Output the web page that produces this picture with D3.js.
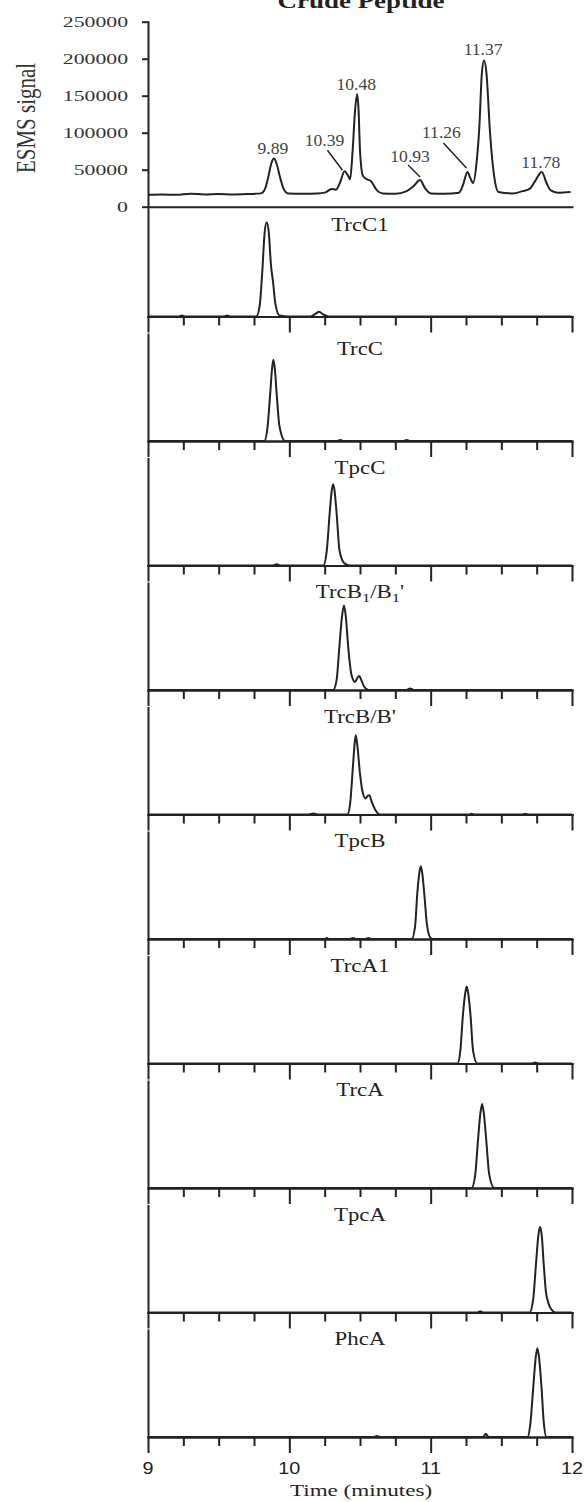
<!DOCTYPE html>
<html>
<head>
<meta charset="utf-8">
<script src="https://cdn.jsdelivr.net/npm/d3@7"></script>
<style>
  body { margin: 0; background: #fff; }
  svg { display: block; }
</style>
</head>
<body>
<svg id="chart"></svg>
<script>
const width = 585
const height = 1502

// axis ticks
const timeMajor = [9, 10, 11, 12]
const timeMinor = [9.25, 9.5, 9.75, 10.25, 10.5, 10.75, 11.25, 11.5, 11.75]
const signalTicks = [0, 50000, 100000, 150000, 200000, 250000]

// crude peptide trace (minutes / ESMS signal)
const crudeTime = [9.00, 9.10, 9.20, 9.30, 9.40, 9.50, 9.60, 9.70, 9.80, 9.83, 9.851, 9.872, 9.891, 9.91, 9.934, 9.96, 9.99,
  10.10, 10.20, 10.25, 10.30, 10.33, 10.36, 10.39, 10.415, 10.43, 10.448, 10.465, 10.48, 10.49, 10.50, 10.52, 10.54, 10.58, 10.62, 10.66,
  10.75, 10.83, 10.88, 10.925, 10.96, 11.00, 11.10, 11.20, 11.23, 11.26, 11.28, 11.30, 11.325, 11.345, 11.362, 11.378, 11.395, 11.42, 11.45, 11.48,
  11.58, 11.65, 11.70, 11.74, 11.786, 11.82, 11.85, 11.90, 11.99]
const crudeSignal = [16000, 16500, 16000, 17500, 16500, 17000, 16500, 17000, 18000, 25000, 40000, 58000, 65000, 58000, 40000, 24000, 18000,
  17500, 18000, 19000, 24000, 23000, 33000, 48000, 42000, 37000, 76000, 130000, 152000, 130000, 76000, 42000, 38000, 34000, 22000, 18000,
  17500, 21000, 28000, 36000, 25000, 18000, 17500, 19000, 30000, 47000, 39000, 32000, 60000, 110000, 180000, 198000, 180000, 100000, 40000, 20000,
  18000, 21000, 24000, 35000, 47000, 32000, 22000, 19000, 20000]

const peakNames = ['9.89', '10.39', '10.48', '10.93', '11.26', '11.37', '11.78']
const peakTime = [9.891, 10.39, 10.48, 10.925, 11.26, 11.378, 11.786]
const peakSignal = [65000, 48000, 152000, 36000, 47000, 198000, 47000]

// standards, relative intensity (%)
const trcC1 = [[9.00,0],[9.22,0],[9.24,1],[9.26,0],[9.54,0],[9.56,1],[9.58,0],[9.765,0],[9.79,10],[9.81,45],[9.825,78],[9.84,88],[9.855,78],[9.87,48],[9.885,32],[9.90,13],[9.93,1],[10.0,0],[10.15,0],[10.19,3],[10.21,4.5],[10.24,2],[10.28,0],[12,0]]
const trcC = [[9.00,0],[9.823,0],[9.845,12],[9.865,45],[9.878,68],[9.887,76],[9.897,68],[9.91,45],[9.93,14],[9.97,0],[10.34,0],[10.36,1],[10.38,0],[10.81,0],[10.83,1],[10.85,0],[12,0]]
const tpcC = [[9.00,0],[9.88,0],[9.91,1.2],[9.94,0],[10.24,0],[10.265,14],[10.285,48],[10.30,70],[10.31,76],[10.32,70],[10.335,48],[10.355,14],[10.39,2],[10.43,0],[12,0]]
const trcB1 = [[9.00,0],[10.31,0],[10.335,10],[10.355,42],[10.372,68],[10.387,79],[10.40,68],[10.418,38],[10.44,14],[10.465,7.5],[10.48,11],[10.495,13],[10.51,9],[10.53,3],[10.56,0],[10.83,0],[10.855,1.5],[10.88,0],[12,0]]
const trcB = [[9.00,0],[10.14,0],[10.17,1],[10.20,0],[10.41,0],[10.43,10],[10.45,45],[10.462,66],[10.47,74],[10.48,66],[10.50,38],[10.52,20],[10.54,15],[10.555,17.5],[10.566,18],[10.58,13],[10.61,4],[10.64,0],[11.27,0],[11.29,0.8],[11.31,0],[11.65,0],[11.67,0.8],[11.69,0],[12,0]]
const tpcB = [[9.00,0],[10.25,0],[10.265,1],[10.28,0],[10.43,0],[10.45,1],[10.47,0],[10.54,0],[10.56,1],[10.58,0],[10.866,0],[10.89,12],[10.905,42],[10.92,62],[10.93,68],[10.94,62],[10.955,42],[10.975,12],[11.0,1],[11.02,0],[12,0]]
const trcA1 = [[9.00,0],[11.19,0],[11.21,12],[11.228,45],[11.245,66],[11.255,72],[11.265,66],[11.282,45],[11.30,12],[11.33,0],[11.72,0],[11.74,1],[11.76,0],[12,0]]
const trcA = [[9.00,0],[11.29,0],[11.315,12],[11.335,45],[11.352,70],[11.364,78.5],[11.376,70],[11.393,45],[11.415,12],[11.45,0],[12,0]]
const tpcA = [[9.00,0],[11.33,0],[11.35,1.2],[11.37,0],[11.70,0],[11.725,12],[11.745,45],[11.762,72],[11.774,80],[11.786,72],[11.80,45],[11.815,20],[11.835,8],[11.86,2],[11.88,0],[12,0]]
const phcA = [[9.00,0],[10.60,0],[10.62,1],[10.64,0],[11.37,0],[11.39,3],[11.41,0],[11.685,0],[11.705,12],[11.725,45],[11.743,74],[11.755,83],[11.767,74],[11.785,45],[11.80,14],[11.82,0],[12,0]]

// panel names: plain parts and subscript parts
const panelNames = [
  [['TrcC1']],
  [['TrcC']],
  [['TpcC']],
  [['TrcB'], ['1', 'sub'], ['/B'], ['1', 'sub'], ["'"]],
  [['TrcB/B\'']],
  [['TpcB']],
  [['TrcA1']],
  [['TrcA']],
  [['TpcA']],
  [['PhcA']]
]
const panelData = [trcC1, trcC, tpcC, trcB1, trcB, tpcB, trcA1, trcA, tpcA, phcA]

// layout
const left = 148, right = 572
const topY0 = 21.7, topY1 = 206.7
const firstBottom = 316.5, panelStep = 124.5, panelH = 107
const ink = '#222'

const svg = d3.select('#chart').attr('width', width).attr('height', height)

const x = d3.scaleLinear().domain([9, 12]).range([left, right])
const ySig = d3.scaleLinear().domain([0, 250000]).range([topY1, topY0])

function styleAxis(g) {
  g.selectAll('path, line').attr('stroke', ink).attr('stroke-width', 2)
  g.select('.domain').attr('stroke-linecap', 'square')
}

// title (cut by the top edge, as in the source figure)
svg.append('text')
  .attr('transform', `translate(${(left + right) / 2 + 1},8) scale(1.35,1)`)
  .attr('text-anchor', 'middle')
  .attr('font-family', 'Liberation Serif')
  .attr('font-weight', 'bold')
  .attr('font-size', 20)
  .attr('fill', ink)
  .text('Crude Peptide')

// --- top panel ---
const gy = svg.append('g').attr('transform', `translate(${left},0)`)
  .call(d3.axisLeft(ySig).tickValues(signalTicks).tickSize(6).tickSizeOuter(0).tickFormat(d => d))
styleAxis(gy)
gy.selectAll('.tick text')
  .attr('x', null).attr('dy', null)
  .attr('transform', 'translate(-20,5) scale(1.45,1)')
  .attr('font-family', 'Liberation Serif')
  .attr('font-size', 15)
  .attr('fill', '#333')

const gxTop = svg.append('g').attr('transform', `translate(0,${topY1})`)
  .call(d3.axisBottom(x).tickValues([]).tickSizeOuter(0))
styleAxis(gxTop)

svg.append('text')
  .attr('transform', `translate(35,118) scale(1.3,1) rotate(-90)`)
  .attr('text-anchor', 'middle')
  .attr('font-family', 'Liberation Serif')
  .attr('font-size', 21)
  .attr('fill', '#333')
  .text('ESMS signal')

const crude = crudeTime.map((t, i) => [t, crudeSignal[i]])
svg.append('path')
  .datum(crude)
  .attr('fill', 'none')
  .attr('stroke', ink)
  .attr('stroke-width', 2)
  .attr('stroke-linejoin', 'round')
  .attr('d', d3.line().x(d => x(d[0])).y(d => ySig(d[1])).curve(d3.curveMonotoneX))

// peak labels; offsets are layout only
const labelOffset = [[-1, -5], [-20, -25], [-1, -4], [-10, -18], [-26, -34], [-1, -5], [-1, -4]]
const leaders = { 1: [-17, -21, -2, -1], 3: [-12, -15, 0, -3], 4: [-24, -29, -1, -4] }
peakNames.forEach((name, i) => {
  const px = x(peakTime[i]), py = ySig(peakSignal[i])
  svg.append('text')
    .attr('transform', `translate(${px + labelOffset[i][0]},${py + labelOffset[i][1]}) scale(1.1,1)`)
    .attr('text-anchor', 'middle')
    .attr('font-family', 'Liberation Serif')
    .attr('font-size', 16)
    .attr('fill', '#444')
    .text(name)
  if (leaders[i]) {
    const l = leaders[i]
    svg.append('line')
      .attr('x1', px + l[0]).attr('y1', py + l[1])
      .attr('x2', px + l[2]).attr('y2', py + l[3])
      .attr('stroke', ink).attr('stroke-width', 1.5)
  }
})

// --- standard panels ---
panelData.forEach((data, i) => {
  const bottom = firstBottom + i * panelStep
  const top = i === 0 ? topY1 + 2 : bottom - panelH
  const y = d3.scaleLinear().domain([0, 100]).range([bottom, bottom - panelH])
  const g = svg.append('g')

  const ga = g.append('g').attr('transform', `translate(${left},0)`)
    .call(d3.axisLeft(d3.scaleLinear().range([top, bottom])).tickValues([]).tickSizeOuter(0))
  styleAxis(ga)

  const gMinor = g.append('g').attr('transform', `translate(0,${bottom})`)
    .call(d3.axisBottom(x).tickValues(timeMinor).tickSize(9).tickSizeOuter(0).tickFormat(''))
  styleAxis(gMinor)
  const gMajor = g.append('g').attr('transform', `translate(0,${bottom})`)
    .call(d3.axisBottom(x).tickValues(timeMajor).tickSize(16).tickSizeOuter(0).tickFormat(''))
  styleAxis(gMajor)

  g.append('path')
    .datum(data)
    .attr('fill', 'none')
    .attr('stroke', ink)
    .attr('stroke-width', 2)
    .attr('stroke-linejoin', 'round')
    .attr('d', d3.line().x(d => x(d[0])).y(d => y(d[1])).curve(d3.curveMonotoneX))

  const label = g.append('text')
    .attr('transform', `translate(${(left + right) / 2},${bottom - (i < 2 ? 86 : 92)}) scale(1.27,1)`)
    .attr('text-anchor', 'middle')
    .attr('font-family', 'Liberation Serif')
    .attr('font-size', 18)
    .attr('fill', ink)
  let prevSub = false
  panelNames[i].forEach(part => {
    const ts = label.append('tspan').text(part[0])
    const isSub = part[1] === 'sub'
    if (isSub) ts.attr('font-size', 13).attr('dy', 4)
    else if (prevSub) ts.attr('dy', -4)
    prevSub = isSub
  })

  if (i === panelData.length - 1) {
    timeMajor.forEach(t => {
      g.append('text')
        .attr('transform', `translate(${x(t)},1474) scale(1.2,1)`)
        .attr('text-anchor', 'middle')
        .attr('font-family', 'Liberation Sans')
        .attr('font-size', 16.5)
        .attr('fill', ink)
        .text(t)
    })
  }
})

svg.append('text')
  .attr('transform', `translate(${(left + right) / 2 + 1},1496) scale(1.4,1)`)
  .attr('text-anchor', 'middle')
  .attr('font-family', 'Liberation Serif')
  .attr('font-size', 16.5)
  .attr('fill', ink)
  .text('Time (minutes)')
</script>
</body>
</html>
